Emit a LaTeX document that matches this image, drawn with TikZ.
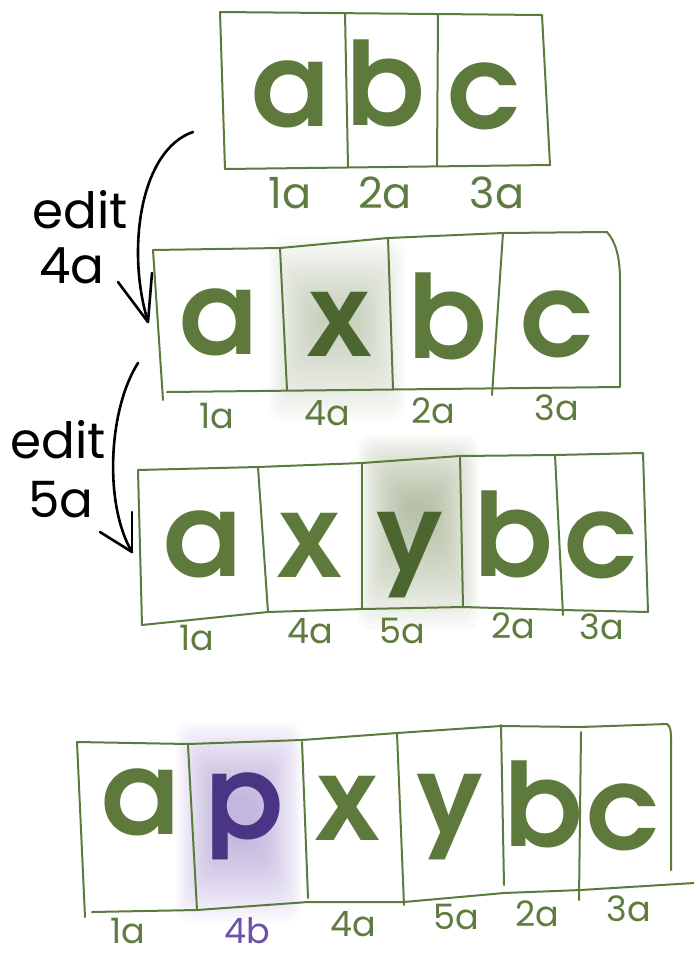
\documentclass[tikz,border=0pt]{standalone}
\usepackage{fontspec}
\newfontfamily\pop{Poppins}
\newfontfamily\adv{texgyreadventor}[Extension=.otf, UprightFont=*-regular, BoldFont=*-bold]
\definecolor{boxgreen}{HTML}{5B7B3C}
\definecolor{lettergreen}{HTML}{5D7A3C}
\definecolor{darkgreen}{HTML}{4C6630}
\definecolor{labelgreen}{HTML}{5E7C3F}
\definecolor{purpleletter}{HTML}{4A3585}
\definecolor{purplelabel}{HTML}{6B54A8}
\definecolor{shadegreen}{HTML}{8FA276}
\definecolor{shadepurple}{HTML}{9C89CC}
\tikzset{
  boxline/.style={draw=boxgreen, line width=2pt, line join=round, line cap=round},
  letter/.style={font=\adv\bfseries\fontsize{116}{116}\selectfont, text=lettergreen, anchor=base, inner sep=0pt},
  lab/.style={font=\pop\fontsize{35}{35}\selectfont, text=labelgreen, anchor=base, inner sep=0pt},
  labbig/.style={lab, font=\pop\fontsize{43}{43}\selectfont},
  edittext/.style={font=\pop\fontsize{50}{50}\selectfont, text=black, anchor=base, inner sep=0pt},
  arrowline/.style={draw=black, line width=2.6pt, line cap=round, line join=round},
}
\begin{document}
\begin{tikzpicture}[x=1pt,y=-1pt]
\useasboundingbox (0,0) rectangle (694,954);
\fill[white] (0,0) rectangle (694,954);

% ---------- soft highlights ----------
\foreach \k in {0,...,19} {
  \fill[shadegreen, opacity=0.028, rounded corners=14]
    (268+\k*2.5,238+\k*4) rectangle (405-\k*2.5,422-\k*5);
  \fill[shadegreen, opacity=0.045, rounded corners=14]
    (358+\k*2.5,435+\k*3.5) rectangle (479-\k*2.5,630-\k*6);
  \fill[shadepurple, opacity=0.04, rounded corners=14]
    (176+\k*2.5,722+\k*4) rectangle (302-\k*2.5,922-\k*4.5);
}

% ---------- row 1 ----------
\draw[boxline] (220,12) -- (542,15) -- (550,165) -- (225,169) -- cycle;
\draw[boxline] (345,13) -- (348,167);
\draw[boxline] (438,14) -- (437,166);
\node[letter] (r1a) at (290,126) {a};
\node[letter] (r1b) at (386,125) {b};
\node[letter] (r1c) at (485,128) {c};
\node[labbig] (l1a) at (290,208) {1a};
\node[labbig] (l1b) at (385,208) {2a};
\node[labbig] (l1c) at (497,208) {3a};

% ---------- row 2 ----------
\draw[boxline] (153,250) -- (280,248) -- (388,238) -- (503,233) -- (607,232)
  .. controls (616,242) and (620,258) .. (620,280) -- (620,387)
  -- (167,392);
\draw[boxline] (153,250) -- (163,400);
\draw[boxline] (280,248) -- (287,390);
\draw[boxline] (388,238) -- (393,389);
\draw[boxline] (503,233) -- (492,395);
\node[letter] (r2a) at (218,354) {a};
\node[letter, text=darkgreen] (r2x) at (340,356) {x};
\node[letter] (r2b) at (448,358) {b};
\node[letter] (r2c) at (558,356) {c};
\node[lab] (l2a) at (217,428) {1a};
\node[lab] (l2b) at (327,425) {4a};
\node[lab] (l2c) at (433,423) {2a};
\node[lab] (l2d) at (557,420) {3a};

% ---------- row 3 ----------
\draw[boxline] (138,470) -- (258,467) -- (362,463) -- (460,456) -- (555,455) -- (643,453)
  -- (648,612) -- (563,610) -- (463,607) -- (363,609) -- (268,612) -- (142,625) -- cycle;
\draw[boxline] (258,467) -- (268,612);
\draw[boxline] (362,463) -- (362,609);
\draw[boxline] (460,456) -- (463,607);
\draw[boxline] (555,455) -- (563,615);
\node[letter] (r3a) at (202,576) {a};
\node[letter] (r3x) at (310,577) {x};
\node[letter, text=darkgreen] (r3y) at (410,576) {y};
\node[letter] (r3b) at (514,576) {b};
\node[letter] (r3c) at (602,577) {c};
\node[lab] (l3a) at (197,650) {1a};
\node[lab] (l3b) at (310,643) {4a};
\node[lab] (l3c) at (402,643) {5a};
\node[lab] (l3d) at (513,638) {2a};
\node[lab] (l3e) at (602,639) {3a};

% ---------- row 4 ----------
\draw[boxline] (85,917) -- (77,742) -- (188,744) -- (302,740) -- (397,733) -- (501,726)
  -- (581,727) -- (667,724) .. controls (671,727) and (671,732) .. (671,740) -- (671,870);
\draw[boxline] (92,912) -- (197,910) -- (308,902) -- (404,902) -- (504,893) -- (581,890) -- (694,883);
\draw[boxline] (188,745) -- (197,910);
\draw[boxline] (302,742) -- (308,898);
\draw[boxline] (397,733) -- (404,905);
\draw[boxline] (501,725) -- (504,885);
\draw[boxline] (581,732) -- (579,900);
\node[letter] (r4a) at (140,834) {a};
\node[letter, text=purpleletter] (r4p) at (245,838) {p};
\node[letter] (r4x) at (348,840) {x};
\node[letter] (r4y) at (450,838) {y};
\node[letter] (r4b) at (544,846) {b};
\node[letter] (r4c) at (624,849) {c};
\node[lab] (l4a) at (128,943) {1a};
\node[lab, text=purplelabel] (l4b) at (247,943) {4b};
\node[lab] (l4c) at (353,936) {4a};
\node[lab] (l4d) at (456,929) {5a};
\node[lab] (l4e) at (537,926) {2a};
\node[lab] (l4f) at (629,921) {3a};

% ---------- edit arrows ----------
\node[edittext] (ed1) at (80,228) {edit};
\node[edittext] (ed1n) at (72,283) {4a};
\coordinate (a1s) at (193,132);
\coordinate (a1t) at (148,322);
\draw[arrowline] (a1s) .. controls (140,150) and (126,250) .. (a1t);
\draw[arrowline] (a1t) -- ++(-30,-40);
\draw[arrowline] (a1t) -- ++(4,-49);

\node[edittext] (ed2) at (58,458) {edit};
\node[edittext] (ed2n) at (61,517) {5a};
\coordinate (a2s) at (138,363);
\coordinate (a2t) at (132,552);
\draw[arrowline] (a2s) .. controls (108,410) and (104,505) .. (a2t);
\draw[arrowline] (a2t) -- ++(-32,-20);
\draw[arrowline] (a2t) -- ++(0,-40);
\end{tikzpicture}
\end{document}
